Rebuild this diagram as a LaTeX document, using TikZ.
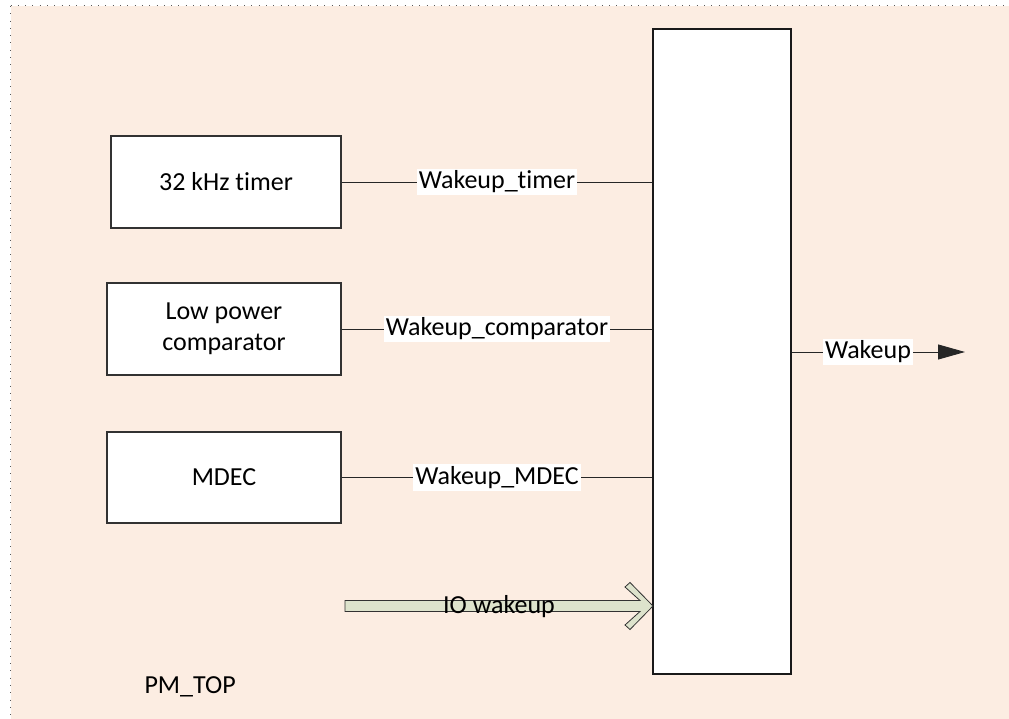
\documentclass[tikz,border=0pt]{standalone}
\usepackage{fontspec}
\setmainfont{Carlito}[Ligatures=NoCommon]
\usetikzlibrary{arrows.meta}
\definecolor{bgc}{RGB}{252,237,226}
\definecolor{ioc}{RGB}{221,227,204}
\definecolor{edge}{RGB}{50,50,50}
\tikzset{
  x=1pt, y=-1pt,
  every node/.style={font=\fontsize{26}{31}\selectfont},
  blockbox/.style={draw=edge, line width=1.4pt, fill=white, align=center, inner sep=0pt},
  sig/.style={draw=black!85, line width=0.9pt},
  siglabel/.style={fill=white, inner sep=2pt, text=black},
}
\begin{document}
\begin{tikzpicture}
\useasboundingbox (0,0) rectangle (1009,719);
\fill[bgc] (10.5,6) rectangle (1009,719);
\draw[gray!70!black, line width=1pt, dash pattern=on 1pt off 6.3pt] (10.5,6) -- (1009,6);
\draw[gray!70!black, line width=1pt, dash pattern=on 1pt off 6.3pt] (10.5,6) -- (10.5,719);

\node[blockbox, minimum width=230, minimum height=92] (timer) at (226,182) {32 kHz timer};
\node[blockbox, minimum width=234, minimum height=92] (comp) at (224,329) {Low power\\comparator};
\node[blockbox, minimum width=234, minimum height=91] (mdec) at (224,477.5) {MDEC};
\node[blockbox, line width=1.5pt, draw=black!90, minimum width=138, minimum height=645] (pm) at (722,351.5) {};

\draw[sig] (timer.east) -- node[siglabel] {Wakeup\_timer} (timer.east -| pm.west);
\draw[sig] (comp.east) -- node[siglabel] {Wakeup\_comparator} (comp.east -| pm.west);
\draw[sig] (mdec.east) -- node[siglabel] {Wakeup\_MDEC} (mdec.east -| pm.west);

\coordinate (out) at (965,352);
\draw[sig, -{Triangle[length=27pt,width=15pt]}] (pm.east |- out) -- node[siglabel, pos=0.44] {Wakeup} (out);

\draw[draw=edge, line width=0.8pt, fill=ioc]
  (345,600.5) -- (640,600.5) -- (625,587) -- (630,582.5) -- (653,606)
  -- (630,629.5) -- (625,625) -- (640,611.5) -- (345,611.5) -- cycle;
\node (io) at (499,607) {IO wakeup};

\node[anchor=west] (pmtop) at (141,687) {PM\_TOP};
\end{tikzpicture}
\end{document}
